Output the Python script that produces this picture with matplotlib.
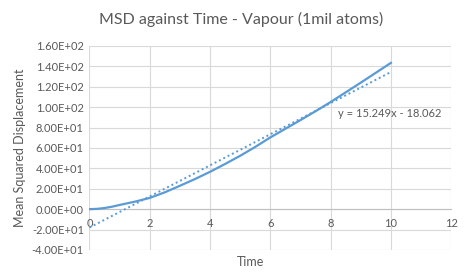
import matplotlib.pyplot as plt
import numpy as np

plt.rcParams['font.family'] = ['Lato', 'DejaVu Sans']

time = [0, 0.25, 0.5, 0.75, 1, 1.5, 2, 2.5, 3, 3.5, 4, 4.5, 5, 5.5, 6, 6.5, 7, 7.5, 8, 8.5, 9, 9.5, 10]
msd = [0, 0.3, 1.1, 2.4, 4.1, 7.3, 11.0, 16.5, 22.9, 29.5, 36.6, 44.3, 52.3, 61.0, 70.3, 78.8, 87.3, 96.0, 105.0, 114.5, 124.0, 133.7, 143.4]
slope = 15.249
intercept = -18.062

text_col = '#595959'
blue = '#5B9BD5'

fig = plt.figure(figsize=(4.68, 2.72), dpi=100)
ax = fig.add_axes([0.191, 0.081, 0.773, 0.75])

ax.plot(time, msd, color=blue, lw=1.6, zorder=3)
fit_x = np.array([time[0], time[-1]])
ax.plot(fit_x, slope * fit_x + intercept, color=blue, lw=1.4, ls=(0, (1, 1.5)), zorder=3)
ax.text(8.25, 94, 'y = 15.249x - 18.062', fontsize=8, color=text_col, va='center')

ax.set_xlim(0, 12)
ax.set_ylim(-40, 160)
ax.set_xticks(range(0, 13, 2))
ax.set_yticks(range(-40, 161, 20))
ax.set_yticklabels(['%.2E' % v for v in range(-40, 161, 20)])
ax.grid(True, color='#D9D9D9', lw=0.8)
ax.set_axisbelow(True)
for s in ['top', 'right', 'left']:
    ax.spines[s].set_visible(False)
ax.spines['bottom'].set_position(('data', 0))
ax.spines['bottom'].set_color('#BFBFBF')
ax.tick_params(length=0, labelsize=8, colors=text_col, pad=4)
ax.tick_params(axis='x', pad=6)

fig.text(0.515, 0.93, 'MSD against Time - Vapour (1mil atoms)', fontsize=11.5,
         color=text_col, ha='center', va='center')
ax.set_ylabel('Mean Squared Displacement', fontsize=9, color=text_col, labelpad=4)
fig.text(0.535, 0.035, 'Time', fontsize=9, color=text_col, ha='center', va='center')

fig.savefig('out.png', dpi=100)
